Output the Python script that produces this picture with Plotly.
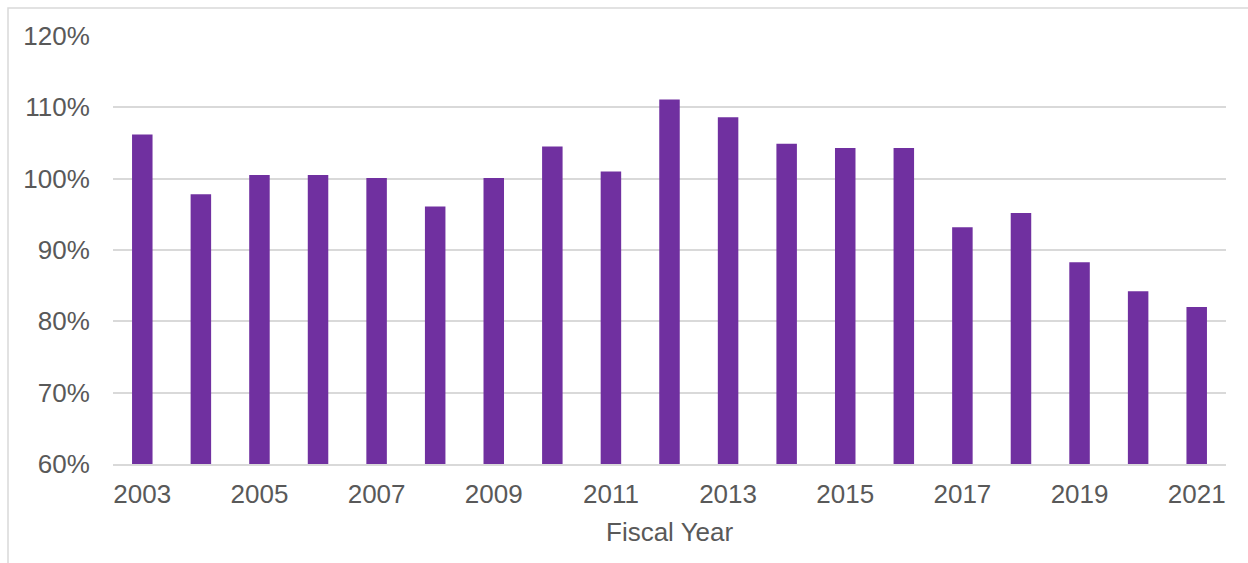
import plotly.graph_objects as go

# Fiscal years and the ratio for each year (percent)
years = [2003, 2004, 2005, 2006, 2007, 2008, 2009, 2010, 2011, 2012,
         2013, 2014, 2015, 2016, 2017, 2018, 2019, 2020, 2021]
ratio_pct = [106.2, 97.8, 100.5, 100.5, 100.1, 96.1, 100.1, 104.5, 101.0, 111.1,
             108.6, 104.9, 104.3, 104.3, 93.2, 95.2, 88.3, 84.2, 82.0]

x_tick_years = [2003, 2005, 2007, 2009, 2011, 2013, 2015, 2017, 2019, 2021]
y_tick_values = [60, 70, 80, 90, 100, 110, 120]

TEXT = "#595959"
GRID = "#d9d9d9"
FONT = "Liberation Sans, Arial, sans-serif"
FS = 26

fig = go.Figure(
    go.Bar(
        x=years,
        y=ratio_pct,
        width=0.35,
        marker=dict(color="#7030A0", line=dict(width=0)),
        hovertemplate="%{x}: %{y:.1f}%<extra></extra>",
    )
)

W, H = 1248, 563
ml, mr, mt, mb = 113, 22, 36, 99
plot_w = W - ml - mr
plot_h = H - mt - mb

fig.update_layout(
    width=W,
    height=H,
    margin=dict(l=ml, r=mr, t=mt, b=mb, pad=0),
    paper_bgcolor="white",
    plot_bgcolor="white",
    showlegend=False,
    font=dict(family=FONT, size=FS, color=TEXT),
    xaxis=dict(
        range=[2002.5, 2021.5],
        tickmode="array",
        tickvals=x_tick_years,
        ticktext=[str(y) for y in x_tick_years],
        ticks="outside",
        ticklen=6,
        tickcolor="rgba(0,0,0,0)",
        showgrid=False,
        zeroline=False,
        showline=True,
        linecolor=GRID,
        linewidth=2,
        tickfont=dict(size=FS, color=TEXT),
        fixedrange=True,
    ),
    yaxis=dict(
        range=[60, 120],
        tickmode="array",
        tickvals=y_tick_values,
        ticktext=[f"{v}%" for v in y_tick_values],
        ticks="outside",
        ticklen=17,
        tickcolor="rgba(0,0,0,0)",
        showgrid=True,
        gridcolor=GRID,
        gridwidth=1.5,
        zeroline=False,
        showline=False,
        tickfont=dict(size=FS, color=TEXT),
        fixedrange=True,
    ),
)

# x-axis title
fig.add_annotation(
    text="Fiscal Year",
    xref="paper", yref="paper",
    x=0.5, y=-(532 - (H - mb)) / plot_h,
    xanchor="center", yanchor="middle",
    showarrow=False,
    font=dict(family=FONT, size=FS, color=TEXT),
)

# Chart-area frame (left and top edges fall inside the page)
fig.add_shape(
    type="rect",
    xref="paper", yref="paper",
    x0=(8 - ml) / plot_w, x1=(W + 20 - ml) / plot_w,
    y0=-(H + 20 - (H - mb)) / plot_h, y1=((H - mb) - 8) / plot_h,
    line=dict(color=GRID, width=1.5),
    fillcolor="rgba(0,0,0,0)",
    layer="below",
)

fig.write_html("out.html")
